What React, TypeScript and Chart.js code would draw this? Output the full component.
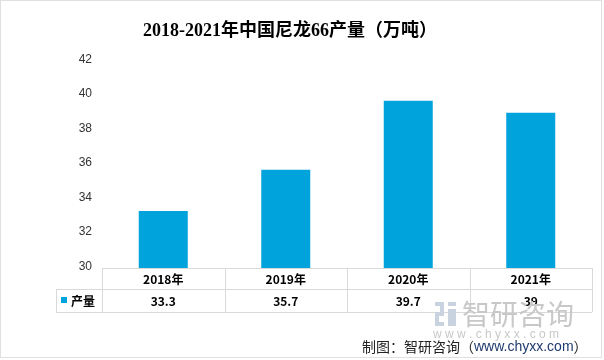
import React, { useEffect, useRef } from "react";
import { Chart, registerables } from "chart.js";

Chart.register(...registerables);

const TITLE = "2018-2021年中国尼龙66产量（万吨）";
const categories = ["2018年", "2019年", "2020年", "2021年"];
const seriesName = "产量";
const values = [33.3, 35.7, 39.7, 39];
const valueLabels = ["33.3", "35.7", "39.7", "39"];
const yMin = 30;
const yMax = 42;
const yStep = 2;
const footerPrefix = "制图：智研咨询（";
const footerUrl = "www.chyxx.com";
const footerSuffix = "）";
const watermarkName = "智研咨询";
const watermarkUrl = "w w w . c h y x x . c o m";

const BAR_COLOR = "#00A3DC";
const LINE_COLOR = "#d9d9d9";

const tablePlugin = {
  id: "tablePlugin",
  beforeDraw(chart: any) {
    const ctx = chart.ctx;
    ctx.save();
    ctx.fillStyle = "#ffffff";
    ctx.fillRect(0, 0, chart.width, chart.height);
    ctx.restore();
  },
  afterDraw(chart: any) {
    const ctx = chart.ctx;
    const xs = chart.scales.x;
    const area = chart.chartArea;
    const left = area.left;
    const right = area.right;
    const top = Math.round(area.bottom);
    const mid = top + 21;
    const bot = mid + 23;
    const legendLeft = 56;
    const n = categories.length;
    const step = (right - left) / n;
    ctx.save();
    // title
    ctx.fillStyle = "#000";
    ctx.font = "bold 18px 'Liberation Serif', 'Noto Sans CJK SC', serif";
    ctx.textAlign = "center";
    ctx.textBaseline = "middle";
    ctx.fillText(TITLE, 290, 31);

    // table lines
    ctx.strokeStyle = LINE_COLOR;
    ctx.lineWidth = 1;
    ctx.beginPath();
    ctx.moveTo(left, top + 0.5);
    ctx.lineTo(right, top + 0.5);
    ctx.moveTo(legendLeft, mid + 0.5);
    ctx.lineTo(right, mid + 0.5);
    ctx.moveTo(legendLeft, bot + 0.5);
    ctx.lineTo(right, bot + 0.5);
    for (let i = 0; i <= n; i++) {
      const x = Math.round(left + step * i) + 0.5;
      ctx.moveTo(x, top);
      ctx.lineTo(x, bot);
    }
    ctx.moveTo(legendLeft + 0.5, mid);
    ctx.lineTo(legendLeft + 0.5, bot);
    ctx.stroke();

    // header + values
    ctx.fillStyle = "#000";
    ctx.font = "bold 12px 'Noto Sans CJK SC', 'Liberation Sans', sans-serif";
    ctx.textAlign = "center";
    categories.forEach((c, i) => {
      const cx = xs.getPixelForValue(i);
      ctx.fillText(c, cx, (top + mid) / 2 + 1);
      ctx.fillText(valueLabels[i], cx, (mid + bot) / 2 + 1);
    });
    // legend cell
    ctx.fillStyle = BAR_COLOR;
    ctx.fillRect(61, 297, 6, 6);
    ctx.fillStyle = "#000";
    ctx.textAlign = "left";
    ctx.fillText(seriesName, 71, (mid + bot) / 2 + 1);

    // watermark
    ctx.fillStyle = "#c9d3e0";
    ctx.fillRect(435, 302, 9, 4);
    ctx.fillRect(440, 302, 4, 14);
    ctx.fillRect(435, 312, 9, 4);
    ctx.fillRect(435, 312, 4, 14);
    ctx.fillRect(435, 322, 9, 4);
    ctx.fillRect(448, 302, 8, 4);
    ctx.fillRect(448, 309, 8, 17);
    ctx.fillStyle = "#c8c8c8";
    ctx.font = "28px 'Noto Sans CJK SC', sans-serif";
    ctx.textAlign = "left";
    ctx.textBaseline = "middle";
    ctx.fillText(watermarkName, 462, 314);
    ctx.font = "12px 'Liberation Sans', sans-serif";
    ctx.fillText(watermarkUrl, 433, 335);

    // footer
    ctx.font = "14px 'Noto Sans CJK SC', sans-serif";
    ctx.textBaseline = "middle";
    let fx = 362;
    ctx.fillStyle = "#222";
    ctx.fillText(footerPrefix, fx, 347);
    fx += ctx.measureText(footerPrefix).width;
    ctx.font = "14px 'Liberation Sans', sans-serif";
    ctx.fillStyle = "#1f3a6e";
    ctx.fillText(footerUrl, fx, 347);
    fx += ctx.measureText(footerUrl).width;
    ctx.font = "14px 'Noto Sans CJK SC', sans-serif";
    ctx.fillStyle = "#222";
    ctx.fillText(footerSuffix, fx, 347);

    // frame
    ctx.strokeStyle = "#e0e0e0";
    ctx.strokeRect(0.5, 0.5, 601, 357);
    ctx.restore();
  },
};

export default function App() {
  const ref = useRef<HTMLCanvasElement>(null);
  useEffect(() => {
    document.body.style.margin = "0";
    const chart = new Chart(ref.current as HTMLCanvasElement, {
      type: "bar",
      data: {
        labels: categories,
        datasets: [
          {
            label: seriesName,
            data: values,
            backgroundColor: BAR_COLOR,
            barPercentage: 0.4,
            categoryPercentage: 1,
          },
        ],
      },
      options: {
        animation: false,
        responsive: false,
        layout: { padding: { left: 0, right: 12, top: 61, bottom: 92 } },
        plugins: {
          legend: { display: false },
          title: { display: false },
          tooltip: { enabled: false },
        },
        scales: {
          x: { display: false, offset: true },
          y: {
            min: yMin,
            max: yMax,
            afterFit: (s: any) => {
              s.width = 102;
            },
            ticks: {
              stepSize: yStep,
              padding: 10,
              labelOffset: -1.5,
              color: "#333",
              font: { family: "'Liberation Sans', sans-serif", size: 12 },
            },
            grid: { display: false, drawTicks: false },
            border: { display: false },
          },
        },
      },
      plugins: [tablePlugin],
    });
    return () => chart.destroy();
  }, []);
  return <canvas ref={ref} width={604} height={360} style={{ display: "block" }} />;
}
